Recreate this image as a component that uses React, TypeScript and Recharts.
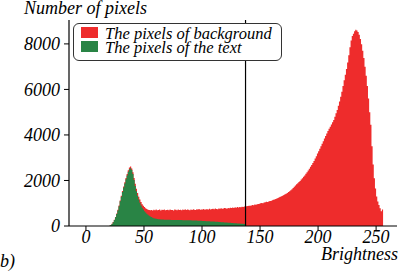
import React from "react";
import { AreaChart, Area, XAxis, YAxis, ReferenceLine, Legend } from "recharts";

// Brightness bins 0..255, total pixel counts ("background" histogram, red)
const backgroundCounts: number[] = [
  0, 0, 0, 0, 0, 0, 0, 0, 0, 0,
  0, 0, 0, 0, 0, 0, 0, 0, 0, 5,
  12, 45, 100, 180, 275, 400, 545, 710, 905, 1120,
  1330, 1535, 1740, 1925, 2110, 2285, 2450, 2570, 2610, 2530,
  2360, 2110, 1860, 1640, 1450, 1290, 1160, 1050, 960, 890,
  830, 780, 745, 715, 700, 690, 705, 680, 710, 695,
  720, 690, 700, 730, 685, 710, 700, 725, 690, 705,
  715, 690, 730, 700, 705, 685, 720, 710, 695, 730,
  700, 715, 690, 725, 705, 735, 700, 720, 710, 695,
  730, 705, 740, 715, 700, 735, 720, 745, 710, 730,
  725, 750, 715, 740, 735, 720, 760, 730, 745, 755,
  740, 770, 750, 735, 765, 755, 780, 760, 770, 790,
  775, 760, 795, 780, 800, 790, 810, 795, 820, 805,
  830, 815, 840, 825, 850, 835, 860, 870, 865, 880,
  890, 885, 905, 920, 910, 940, 935, 955, 970, 980,
  1000, 1010, 995, 1030, 1045, 1060, 1050, 1080, 1100, 1095,
  1130, 1150, 1165, 1190, 1210, 1235, 1260, 1280, 1310, 1330,
  1360, 1390, 1420, 1450, 1490, 1530, 1570, 1620, 1670, 1720,
  1780, 1830, 1880, 1930, 1980, 2040, 2100, 2160, 2220, 2290,
  2360, 2440, 2520, 2600, 2680, 2770, 2860, 2960, 3060, 3180,
  3280, 3390, 3500, 3610, 3720, 3840, 3950, 4060, 4170, 4270,
  4360, 4460, 4560, 4660, 4800, 4950, 5100, 5280, 5470, 5680,
  5900, 6150, 6400, 6650, 6900, 7180, 7500, 7850, 8150, 8350,
  8450, 8560, 8620, 8590, 8520, 8400, 8220, 7980, 7700, 7380,
  7000, 6600, 6150, 5600, 5000, 4450, 3500, 2700, 2100, 1650,
  1300, 1080, 920, 780, 650, 720,
];

// Brightness bins 0..255, text pixel counts (green)
const textCounts: number[] = [
  0, 0, 0, 0, 0, 0, 0, 0, 0, 0,
  0, 0, 0, 0, 0, 0, 0, 0, 0, 4,
  10, 40, 92, 170, 262, 382, 522, 684, 872, 1084,
  1290, 1492, 1692, 1872, 2052, 2222, 2382, 2496, 2540, 2460,
  2280, 2020, 1760, 1530, 1330, 1160, 1020, 900, 800, 720,
  650, 590, 540, 495, 455, 420, 390, 365, 345, 330,
  318, 308, 300, 294, 289, 285, 282, 279, 277, 275,
  273, 271, 270, 268, 267, 266, 265, 264, 263, 262,
  261, 260, 259, 258, 257, 256, 255, 253, 252, 250,
  248, 246, 244, 242, 240, 238, 235, 232, 229, 226,
  223, 220, 217, 214, 211, 208, 205, 202, 199, 196,
  193, 190, 186, 182, 178, 174, 170, 166, 162, 158,
  154, 150, 146, 142, 138, 134, 130, 126, 122, 118,
  114, 110, 106, 102, 98, 94, 90, 86, 0, 0,
  0, 0, 0, 0, 0, 0, 0, 0, 0, 0,
  0, 0, 0, 0, 0, 0, 0, 0, 0, 0,
  0, 0, 0, 0, 0, 0, 0, 0, 0, 0,
  0, 0, 0, 0, 0, 0, 0, 0, 0, 0,
  0, 0, 0, 0, 0, 0, 0, 0, 0, 0,
  0, 0, 0, 0, 0, 0, 0, 0, 0, 0,
  0, 0, 0, 0, 0, 0, 0, 0, 0, 0,
  0, 0, 0, 0, 0, 0, 0, 0, 0, 0,
  0, 0, 0, 0, 0, 0, 0, 0, 0, 0,
  0, 0, 0, 0, 0, 0, 0, 0, 0, 0,
  0, 0, 0, 0, 0, 0, 0, 0, 0, 0,
  0, 0, 0, 0, 0, 0,
];

const xTicks = [0, 50, 100, 150, 200, 250];
const yTicks = [0, 2000, 4000, 6000, 8000];
const threshold = 137.5;
const seriesNames = ["The pixels of background", "The pixels of the text"];

const RED = "#ee2c2c";
const GREEN = "#298445";
const FONT = "'Liberation Serif', 'Times New Roman', serif";

const data = backgroundCounts.map((v, i) => ({ x: i, bg: v, tx: textCounts[i] }));
data.push({ x: backgroundCounts.length, bg: 0, tx: 0 });

const tickStyle = { fill: "#000", fontSize: 18, fontStyle: "italic", fontFamily: FONT };

const LegendBox = () => (
  <div
    style={{
      position: "absolute",
      left: 73,
      top: 23,
      width: 209,
      height: 38,
      boxSizing: "border-box",
      border: "1px solid #333",
      borderRadius: 6,
      background: "#fff",
      fontFamily: FONT,
      fontStyle: "italic",
      fontSize: 16.5,
      color: "#000",
    }}
  >
    {[RED, GREEN].map((c, i) => (
      <div
        key={i}
        style={{
          position: "absolute",
          left: 0,
          top: 3 + i * 14,
          height: 14,
          lineHeight: "14px",
          whiteSpace: "nowrap",
        }}
      >
        <span
          style={{
            position: "absolute",
            left: 7,
            top: 0,
            width: 17,
            height: 11,
            background: c,
          }}
        />
        <span style={{ position: "absolute", left: 31, top: 0 }}>{seriesNames[i]}</span>
      </div>
    ))}
  </div>
);

export default function App() {
  return (
    <div style={{ position: "absolute", left: 0, top: 0, width: 399, height: 275, background: "#fff" }}>
      <AreaChart
        width={399}
        height={275}
        data={data}
        margin={{ top: 20, right: 2, bottom: 19, left: 9 }}
      >
        <XAxis
          xAxisId="b"
          dataKey="x"
          type="number"
          domain={[-14.6, 268]}
          allowDataOverflow
          ticks={xTicks}
          height={30}
          tickSize={5}
          tickMargin={-1}
          axisLine={{ stroke: "#000", strokeWidth: 1.2 }}
          tickLine={{ stroke: "#000" }}
          tick={tickStyle}
          interval={0}
        />
        <XAxis
          xAxisId="t"
          orientation="top"
          dataKey="x"
          type="number"
          domain={[-14.6, 268]}
          allowDataOverflow
          height={0}
          tick={false}
          tickLine={false}
          axisLine={{ stroke: "#000", strokeWidth: 1.2 }}
        />
        <YAxis
          yAxisId="l"
          type="number"
          domain={[0, 9050]}
          allowDataOverflow
          ticks={yTicks}
          width={60}
          tickSize={5}
          tickMargin={4}
          axisLine={{ stroke: "#000", strokeWidth: 1.2 }}
          tickLine={{ stroke: "#000" }}
          tick={tickStyle}
          interval={0}
        />
        <YAxis
          yAxisId="r"
          orientation="right"
          type="number"
          domain={[0, 9050]}
          width={0}
          tick={false}
          tickLine={false}
          axisLine={{ stroke: "#000", strokeWidth: 1.2 }}
        />
        <Area
          xAxisId="b"
          yAxisId="l"
          type="stepAfter"
          dataKey="bg"
          stroke="none"
          fill={RED}
          fillOpacity={1}
          isAnimationActive={false}
          dot={false}
          activeDot={false}
        />
        <Area
          xAxisId="b"
          yAxisId="l"
          type="stepAfter"
          dataKey="tx"
          stroke="none"
          fill={GREEN}
          fillOpacity={1}
          isAnimationActive={false}
          dot={false}
          activeDot={false}
        />
        <ReferenceLine xAxisId="b" yAxisId="l" x={threshold} stroke="#000" strokeWidth={1.2} />
        <Legend content={() => null} />
      </AreaChart>
      <LegendBox />
      <svg
        width={399}
        height={275}
        style={{ position: "absolute", left: 0, top: 0, pointerEvents: "none" }}
      >
        <text x={24} y={14} fontFamily={FONT} fontStyle="italic" fontSize={18} fill="#000">
          Number of pixels
        </text>
        <text x={398} y={260} textAnchor="end" fontFamily={FONT} fontStyle="italic" fontSize={18} fill="#000">
          Brightness
        </text>
        <text x={0} y={267} fontFamily={FONT} fontStyle="italic" fontSize={18} fill="#000">
          b)
        </text>
      </svg>
    </div>
  );
}
